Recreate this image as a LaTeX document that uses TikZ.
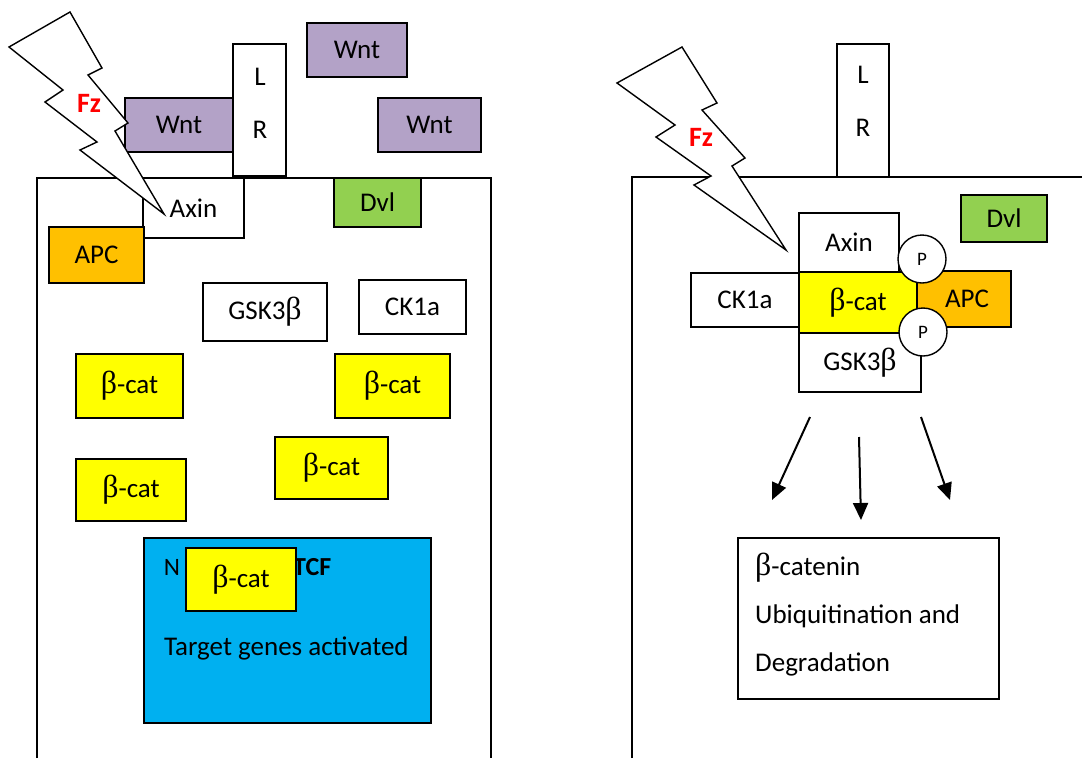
\documentclass[tikz,border=0pt]{standalone}
\usepackage{fontspec}
\setmainfont{Carlito}
\newfontfamily\greekfont[Scale=1.18]{Liberation Serif}
\newcommand{\gb}{{\greekfont β}}
\usetikzlibrary{arrows.meta}
\definecolor{wntcol}{HTML}{B3A2C7}
\definecolor{apccol}{HTML}{FFC000}
\definecolor{dvlcol}{HTML}{92D050}
\definecolor{catcol}{HTML}{FFFF00}
\definecolor{nuccol}{HTML}{00B0F0}
\definecolor{fzcol}{HTML}{FF0000}
\begin{document}
\begin{tikzpicture}[x=1pt,y=-1pt,
    every node/.style={font=\fontsize{27}{31}\selectfont},
    box/.style={draw,line width=1.6pt,inner sep=0pt},
    cell/.style={line width=1.4pt},
    bolt/.style={draw,line width=1.4pt,fill=white,line join=miter},
    phos/.style={circle,draw,line width=1.4pt,fill=white,minimum size=48pt,inner sep=0pt,font=\fontsize{19}{21}\selectfont},
    down/.style={line width=2pt,-{Triangle[length=17pt,width=15pt]}}]
\useasboundingbox (0,0) rectangle (1082,758);

% left cell: Wnt on
\draw[cell] (37,758) -- (37,178) -- (491,178) -- (491,758);

\node[box,minimum width=53pt,minimum height=132pt] (lrL) at (259.5,110) {};
\node at (260,77) {L};
\node at (260,130) {R};

\node[box,fill=wntcol,minimum width=108pt,minimum height=54pt] (wntL) at (179,125) {Wnt};
\node[box,fill=wntcol,minimum width=100pt,minimum height=54pt] (wntT) at (357,50) {Wnt};
\node[box,fill=wntcol,minimum width=103pt,minimum height=54pt] (wntR) at (429.5,125) {Wnt};
\node[box,fill=dvlcol,minimum width=87pt,minimum height=49pt] (dvlL) at (377.5,202.5) {Dvl};
\node[box,fill=white,minimum width=101pt,minimum height=60pt] (axinL) at (193.5,208) {Axin};
\node[box,fill=apccol,minimum width=95pt,minimum height=56pt] (apcL) at (96.5,255) {APC};
\node[box,fill=white,minimum width=124pt,minimum height=58pt] (gskL) at (265,312) {GSK3\gb};
\node[box,fill=white,minimum width=107pt,minimum height=54pt] (ckL) at (412.5,307) {CK1a};

\foreach \i/\p/\w/\h in {
    1/{(129.5,386)}/107/64,
    2/{(392.5,386)}/115/64,
    3/{(331.5,468)}/113/62,
    4/{(131,490)}/110/62
}
{
    \node[box,fill=catcol,minimum width=\w pt,minimum height=\h pt] (bcat\i) at \p {\gb-cat};
};

% nucleus
\node[box,fill=nuccol,minimum width=287pt,minimum height=185pt] (nuc) at (287.5,630.5) {};
\node[font=\fontsize{25}{28}\selectfont] (nN) at (172,567) {N};
\node[anchor=west,inner sep=0pt,font=\bfseries\fontsize{26}{29}\selectfont] (tcf) at (293,567) {TCF};
\node[box,fill=catcol,minimum width=110pt,minimum height=63pt] (bcatN) at (241,579.5) {\gb-cat};
\node[anchor=west,inner sep=0pt] (genes) at (164,648) {Target genes activated};

\draw[bolt] (9,47) -- (70,12) -- (102,68) -- (88,75) -- (128,123) -- (115,131)
    -- (164,214) -- (80,150) -- (97,142) -- (45,102) -- (63,90) -- cycle;
\node[text=fzcol,font=\bfseries\fontsize{28}{31}\selectfont] (fzL) at (89,103) {Fz};

% right cell: Wnt off
\draw[cell] (632,758) -- (632,177) -- (1082,177);

\node[box,minimum width=52pt,minimum height=133pt] (lrR) at (863,110.5) {};
\node at (863,75) {L};
\node at (863,128) {R};

\node[box,fill=dvlcol,minimum width=86pt,minimum height=47pt] (dvlR) at (1004,218.5) {Dvl};
\node[box,fill=white,minimum width=100pt,minimum height=59pt] (axinR) at (849,242.5) {Axin};
\node[box,fill=white,minimum width=108pt,minimum height=54pt] (ckR) at (745,300) {CK1a};
\node[box,fill=apccol,minimum width=94pt,minimum height=56pt] (apcR) at (964,299) {};
\node[box,fill=white,minimum width=122pt,minimum height=59pt] (gskR) at (860,362.5) {GSK3\gb};
\node[box,fill=catcol,minimum width=118pt,minimum height=61pt] (bcatR) at (858,302.5) {\gb-cat};
\node[phos] (p1) at (922,259) {P};
\node[phos] (p2) at (923,332) {P};
\node (apcRtxt) at (967,299) {APC};

\draw[bolt] (617,83) -- (682,47) -- (717,103) -- (702,110) -- (745,158) -- (732,166)
    -- (786,250) -- (694,185) -- (711,176) -- (656,137) -- (675,125) -- cycle;
\node[text=fzcol,font=\bfseries\fontsize{28}{31}\selectfont] (fzR) at (701,137) {Fz};

\coordinate (aOneS) at (810,417);
\coordinate (aOneE) at (772,500);
\coordinate (aTwoS) at (859,437);
\coordinate (aTwoE) at (861,520);
\coordinate (aThrS) at (921,417);
\coordinate (aThrE) at (950,500);
\draw[down] (aOneS) -- (aOneE);
\draw[down] (aTwoS) -- (aTwoE);
\draw[down] (aThrS) -- (aThrE);

\node[box,minimum width=261pt,minimum height=161pt] (degr) at (868.5,618.5) {};
\node[anchor=west,align=left,inner sep=0pt,font=\fontsize{27}{48}\selectfont] (degrtxt) at (755,615)
    {\gb-catenin\\Ubiquitination and\\Degradation};
\end{tikzpicture}
\end{document}
